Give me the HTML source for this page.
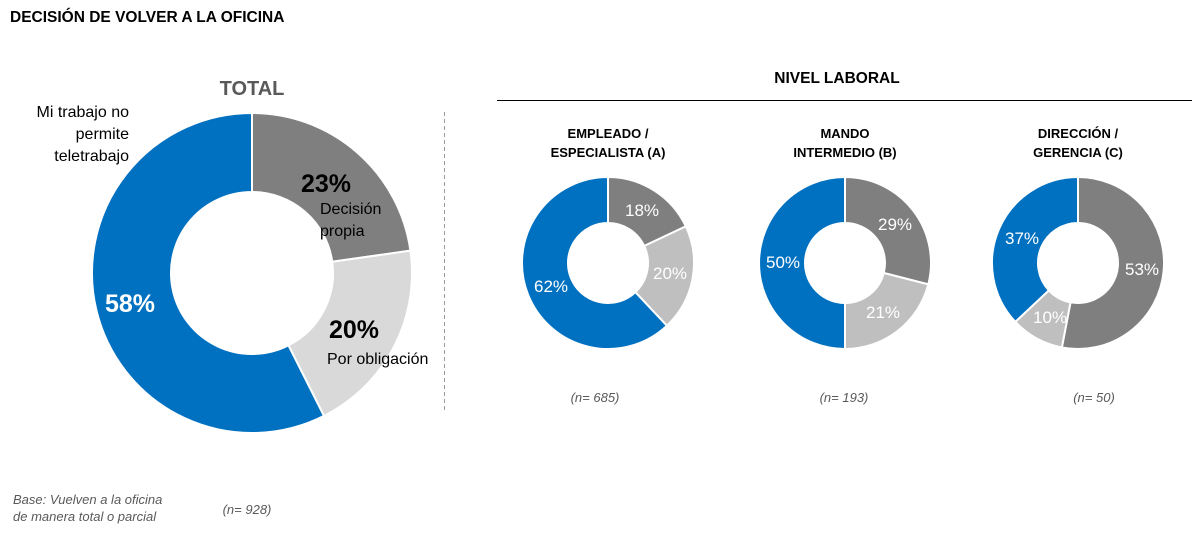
<!DOCTYPE html>
<html><head><meta charset="utf-8"><style>
body{margin:0;background:#fff;width:1197px;height:539px;overflow:hidden}
svg{display:block;font-family:"Liberation Sans",sans-serif}
</style></head><body>
<svg id="s" width="1197" height="539" xmlns="http://www.w3.org/2000/svg">
<text x="10" y="22" font-size="15.5" font-weight="bold" fill="#000">DECISIÓN DE VOLVER A LA OFICINA</text>
<text x="252" y="95" font-size="20" font-weight="bold" fill="#595959" text-anchor="middle">TOTAL</text>
<text font-size="16" fill="#000" text-anchor="end"><tspan x="129" y="117">Mi trabajo no</tspan><tspan x="129" y="139">permite</tspan><tspan x="129" y="161">teletrabajo</tspan></text>
<line x1="444.5" y1="112" x2="444.5" y2="410" stroke="#999" stroke-dasharray="4,3"/>
<text x="837" y="83" font-size="15.5" font-weight="bold" text-anchor="middle">NIVEL LABORAL</text>
<line x1="497" y1="100.5" x2="1192" y2="100.5" stroke="#000" stroke-width="1"/>
<g font-size="13" font-weight="bold" text-anchor="middle">
<text x="608" y="138">EMPLEADO /</text><text x="608" y="157">ESPECIALISTA (A)</text>
<text x="845" y="138">MANDO</text><text x="845" y="157">INTERMEDIO (B)</text>
<text x="1078" y="138">DIRECCIÓN /</text><text x="1078" y="157">GERENCIA (C)</text>
</g>
<g id="d"></g>
<g font-size="25" font-weight="bold" fill="#000">
<text x="301" y="192">23%</text><text x="329" y="338">20%</text>
<text x="105" y="312" fill="#fff">58%</text>
</g>
<g font-size="16" fill="#000"><text x="320" y="214">Decisión</text><text x="320" y="236">propia</text><text x="327" y="364">Por obligación</text></g>
<g font-size="17" fill="#fff" text-anchor="middle">
<text x="642" y="216">18%</text><text x="670" y="279">20%</text><text x="551" y="292">62%</text>
<text x="895" y="230">29%</text><text x="883" y="318">21%</text><text x="783" y="268">50%</text>
<text x="1142" y="275">53%</text><text x="1050" y="323">10%</text><text x="1022" y="244">37%</text>
</g>
<g font-size="13" font-style="italic" fill="#595959" text-anchor="middle">
<text x="595" y="402">(n= 685)</text><text x="844" y="402">(n= 193)</text><text x="1094" y="402">(n= 50)</text>
<text x="247" y="514">(n= 928)</text>
</g>
<g font-size="13" font-style="italic" fill="#595959"><text x="13" y="504">Base: Vuelven a la oficina</text><text x="13" y="521">de manera total o parcial</text></g>
</svg>
<script>
var C=['#7f7f7f','#d9d9d9','#0070c0'];
function donut(cx,cy,R,r,vals,cols,sw){
 var g=document.getElementById('d'),tot=vals.reduce((a,b)=>a+b,0),a=0,h='';
 vals.forEach(function(v,i){
  var a0=a/tot*2*Math.PI,a1=(a+v)/tot*2*Math.PI;a+=v;
  function p(rr,t){return [cx+rr*Math.sin(t),cy-rr*Math.cos(t)]}
  var l=(a1-a0)>Math.PI?1:0,A=p(R,a0),B=p(R,a1),Cc=p(r,a1),D=p(r,a0);
  h+='<path d="M'+A+'A'+R+','+R+' 0 '+l+' 1 '+B+'L'+Cc+'A'+r+','+r+' 0 '+l+' 0 '+D+'Z" fill="'+cols[i]+'" stroke="#fff" stroke-width="'+sw+'"/>';
 });
 g.innerHTML+=h;
}
donut(252,273,160,81,[23,20,58],C,2);
var c2=['#7f7f7f','#bfbfbf','#0070c0'];
donut(608,263,86,40,[18,20,62],c2,2);
donut(845,263,86,40,[29,21,50],c2,2);
donut(1078,263,86,40,[53,10,37],c2,2);
</script>
</body></html>
